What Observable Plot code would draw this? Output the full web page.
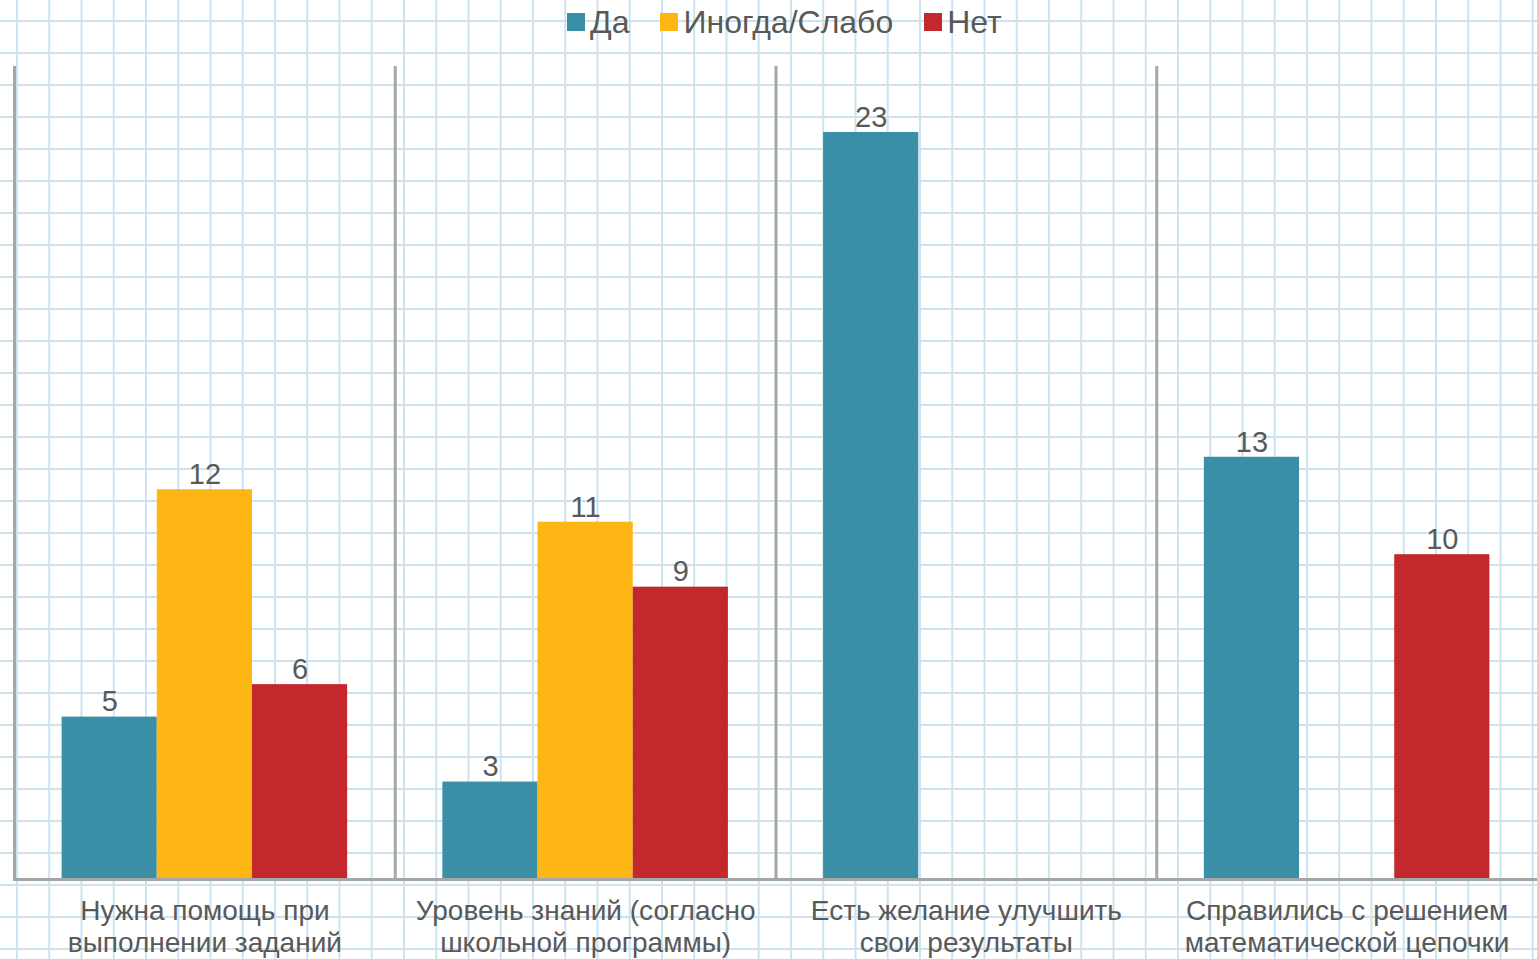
<!DOCTYPE html>
<html>
<head>
<meta charset="utf-8">
<script src="https://cdn.jsdelivr.net/npm/d3@7"></script>
<script src="https://cdn.jsdelivr.net/npm/@observablehq/plot@0.6"></script>
<style>
  html, body { margin: 0; padding: 0; }
  body {
    width: 1537px; height: 959px; overflow: hidden; position: relative;
    background-color: #ffffff;
    background-image:
      linear-gradient(to right, #cae3ee 2px, transparent 2px),
      linear-gradient(to bottom, #cae3ee 2px, transparent 2px);
    background-size: 32.25px 32px;
    background-position: 16px 20px;
    font-family: "Liberation Sans", Arial, sans-serif;
  }
  #legend {
    position: absolute; top: 2px; left: 567px;
    display: flex; align-items: center; gap: 31px;
    font-size: 32px; color: #595959; line-height: 40px;
  }
  #legend .item { display: flex; align-items: center; gap: 5px; }
  #legend .sw { width: 18px; height: 18px; display: inline-block; }
  #chart { position: absolute; top: 0; left: 0; }
</style>
</head>
<body>
<div id="legend"></div>
<div id="chart"></div>
<script>
// Categories (x-axis groups) and their labels
const categories = [
  "Нужна помощь при\nвыполнении заданий",
  "Уровень знаний (согласно\nшкольной программы)",
  "Есть желание улучшить\nсвои результаты",
  "Справились с решением\nматематической цепочки"
];
// Series
const series = ["Да", "Иногда/Слабо", "Нет"];
const colors = ["#3a8fa6", "#fdb614", "#c3282c"];
// Values per series (null = no bar)
const valuesDa = [5, 3, 23, 13];
const valuesInogda = [12, 11, null, null];
const valuesNet = [6, 9, null, 10];

const seriesValues = [valuesDa, valuesInogda, valuesNet];
const rows = [];
categories.forEach((c, i) => {
  series.forEach((s, j) => {
    const v = seriesValues[j][i];
    if (v != null) rows.push({category: c, series: s, value: v});
  });
});

// Legend
const legend = document.getElementById("legend");
series.forEach((s, j) => {
  const item = document.createElement("div");
  item.className = "item";
  const sw = document.createElement("span");
  sw.className = "sw";
  sw.style.background = colors[j];
  const t = document.createElement("span");
  t.textContent = s;
  item.appendChild(sw);
  item.appendChild(t);
  legend.appendChild(item);
});

const gray = "#595959";
const chart = Plot.plot({
  width: 1537,
  height: 959,
  marginTop: 67,
  marginBottom: 80,
  marginLeft: 14,
  marginRight: 0,
  style: {background: "transparent", fontFamily: "'Liberation Sans', Arial, sans-serif"},
  fx: {domain: categories, padding: 0, round: false, axis: null},
  x: {domain: series, paddingInner: 0, paddingOuter: 0.5, round: false, axis: null},
  y: {domain: [0, 25], axis: null},
  color: {domain: series, range: colors},
  marks: [
    Plot.frame({anchor: "left", stroke: "#a6a6a6", strokeWidth: 3}),
    Plot.barY(rows, {fx: "category", x: "series", y: "value", fill: "series", inset: 0}),
    Plot.ruleY([0], {stroke: "#a6a6a6", strokeWidth: 3}),
    Plot.text(rows, {fx: "category", x: "series", y: "value", text: d => String(d.value),
      dy: -15, fontSize: 29, fill: gray}),
    Plot.text(categories, {fx: d => d, text: d => d, frameAnchor: "bottom",
      lineAnchor: "middle", dy: 46, lineHeight: 1.14, fontSize: 28, fill: gray})
  ]
});
document.getElementById("chart").appendChild(chart);
</script>
</body>
</html>
